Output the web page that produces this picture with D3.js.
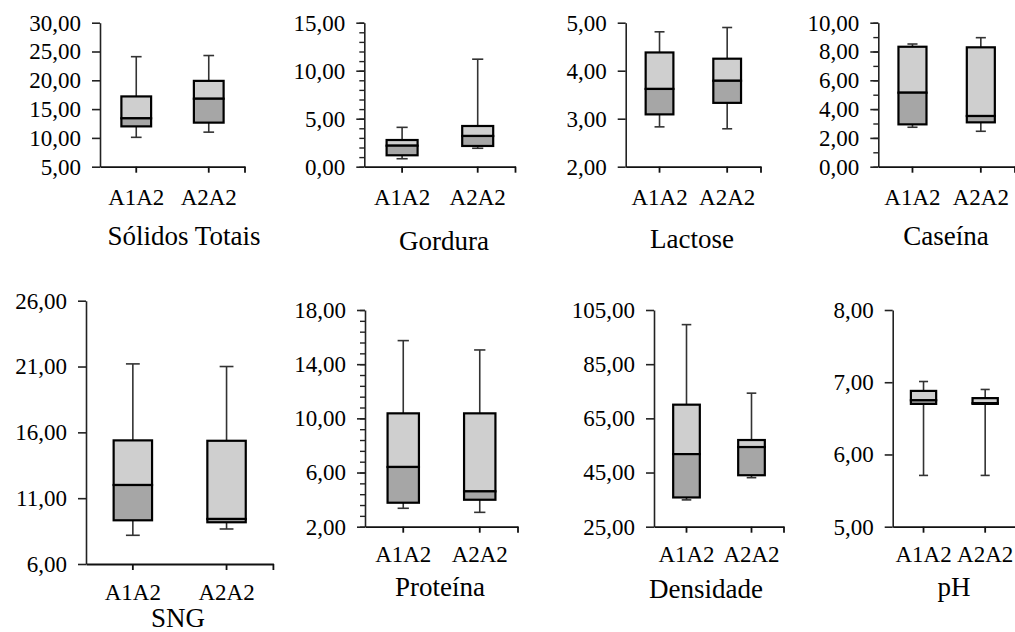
<!DOCTYPE html>
<html>
<head>
<meta charset="utf-8">
<script src="https://cdn.jsdelivr.net/npm/d3@7"></script>
<style>
  body { margin: 0; background: #fff; }
  svg { display: block; }
  text { font-family: "Liberation Serif", "Times New Roman", serif; fill: #000; }
</style>
</head>
<body>
<div id="chart"></div>
<script>
// data (min, Q1, median, Q3, max per genotype)
const genotypes = ["A1A2", "A2A2"]
const variables = ["Sólidos Totais", "Gordura", "Lactose", "Caseína", "SNG", "Proteína", "Densidade", "pH"]
const minValues = [[10.1, 11.0], [0.83, 1.92], [2.83, 2.79], [2.74, 2.46], [8.18, 8.66], [3.36, 3.06], [34.9, 43.1], [5.71, 5.71]]
const q1Values = [[12.0, 12.65], [1.19, 2.16], [3.09, 3.33], [2.94, 3.08], [9.32, 9.17], [3.77, 3.99], [35.8, 44.0], [6.70, 6.70]]
const medianValues = [[13.4, 16.8], [2.19, 3.2], [3.62, 3.79], [5.14, 3.52], [12.0, 9.42], [6.41, 4.61], [51.8, 54.4], [6.75, 6.71]]
const q3Values = [[17.2, 19.9], [2.78, 4.24], [4.38, 4.25], [8.33, 8.29], [15.39, 15.36], [10.37, 10.37], [70.05, 57.0], [6.88, 6.78]]
const maxValues = [[24.1, 24.3], [4.1, 11.2], [4.81, 4.9], [8.52, 8.96], [21.2, 21.0], [15.74, 15.05], [99.6, 74.3], [7.01, 6.90]]

// axis ranges / tick labels
const yMin = [5, 0, 2, 0, 6, 2, 25, 5]
const yMax = [30, 15, 5, 10, 26, 18, 105, 8]
const yStep = [5, 5, 1, 2, 5, 4, 20, 1]
const yMinorStep = [0, 1, 0, 1, 0, 0.8, 0, 0]

// panel placement on the page
const layout = [
    { x0: 100, x1: 245, y0: 22.7, y1: 166.7, labY: 205, titX: 184, titY: 245 },
    { x0: 364.3, x1: 515.5, y0: 22.7, y1: 166.7, labY: 205, titX: 444, titY: 250 },
    { x0: 625.7, x1: 761, y0: 22.7, y1: 166.7, labY: 205, titX: 692, titY: 248 },
    { x0: 878.3, x1: 1015, y0: 22.7, y1: 166.7, labY: 205, titX: 946, titY: 245 },
    { x0: 86, x1: 273.4, y0: 300.7, y1: 564, labY: 600, titX: 178, titY: 627 },
    { x0: 365, x1: 518, y0: 310, y1: 526.7, labY: 562, titX: 440, titY: 596 },
    { x0: 654, x1: 784, y0: 310, y1: 526.7, labY: 562, titX: 706, titY: 598 },
    { x0: 892.7, x1: 1016, y0: 310, y1: 526.7, labY: 562, titX: 954, titY: 596 }
]

const lightFill = "#cfcfcf"
const darkFill = "#a6a6a6"

const ptBR = d3.formatLocale({ decimal: ",", thousands: ".", grouping: [3], currency: ["R$", ""] })
const fmt = ptBR.format(".2f")

svg = d3.select("#chart")
    .append("svg")
    .attr("width", 1015)
    .attr("height", 632)

variables.forEach((name, i) => {
    const L = layout[i]
    const g = svg.append("g")

    yScale = d3.scaleLinear()
        .domain([yMin[i], yMax[i]])
        .range([L.y1, L.y0])

    xScale = d3.scaleBand()
        .domain(genotypes)
        .range([L.x0, L.x1])

    // minor ticks
    if (yMinorStep[i] > 0) {
        const minor = d3.range(yMin[i], yMax[i] + 1e-6, yMinorStep[i])
        const gm = g.append("g")
            .attr("transform", "translate(" + L.x0 + ",0)")
            .call(d3.axisLeft(yScale).tickValues(minor).tickSize(5).tickFormat(""))
        gm.select(".domain").remove()
        gm.selectAll("line").attr("stroke", "#222").attr("stroke-width", 1.4)
    }

    // y axis
    const ticks = d3.range(yMin[i], yMax[i] + yStep[i] / 2, yStep[i])
    const gy = g.append("g")
        .attr("transform", "translate(" + L.x0 + ",0)")
        .call(d3.axisLeft(yScale).tickValues(ticks).tickSize(8).tickSizeOuter(0).tickPadding(11).tickFormat(fmt))
    gy.selectAll("path, line").attr("stroke", "#222").attr("stroke-width", 1.6)
    gy.selectAll("text")
        .attr("font-size", "23px")
        .attr("font-family", "Liberation Serif, Times New Roman, serif")
        .attr("fill", "#000")

    // x axis
    const gx = g.append("g")
        .attr("transform", "translate(0," + L.y1 + ")")
        .call(d3.axisBottom(xScale).tickSize(6).tickSizeOuter(0).tickFormat(""))
    gx.selectAll("path, line").attr("stroke", "#111").attr("stroke-width", 1.8)
    gx.append("line")
        .attr("x1", xScale.range()[1]).attr("x2", xScale.range()[1])
        .attr("y1", 0).attr("y2", 6)
        .attr("stroke", "#111").attr("stroke-width", 1.8)

    g.selectAll(".cat")
        .data(genotypes)
        .enter()
        .append("text")
        .attr("class", "cat")
        .attr("x", (d) => xScale(d) + xScale.bandwidth() / 2)
        .attr("y", L.labY)
        .attr("text-anchor", "middle")
        .attr("font-size", "23px")
        .text((d) => d)

    // boxes
    const boxW = xScale.bandwidth() * 0.41
    const capW = boxW * 0.36

    const boxes = g.selectAll(".box")
        .data(genotypes.map((d, j) => ({
            cat: d,
            min: minValues[i][j], q1: q1Values[i][j], med: medianValues[i][j],
            q3: q3Values[i][j], max: maxValues[i][j]
        })))
        .enter()
        .append("g")
        .attr("class", "box")
        .attr("transform", (d) => "translate(" + (xScale(d.cat) + xScale.bandwidth() / 2) + ",0)")

    boxes.append("line")
        .attr("x1", 0).attr("x2", 0)
        .attr("y1", (d) => yScale(d.max)).attr("y2", (d) => yScale(d.q3))
        .attr("stroke", "#333").attr("stroke-width", 1.6)
    boxes.append("line")
        .attr("x1", 0).attr("x2", 0)
        .attr("y1", (d) => yScale(d.q1)).attr("y2", (d) => yScale(d.min))
        .attr("stroke", "#333").attr("stroke-width", 1.6)
    boxes.append("line")
        .attr("x1", -capW / 2).attr("x2", capW / 2)
        .attr("y1", (d) => yScale(d.max)).attr("y2", (d) => yScale(d.max))
        .attr("stroke", "#333").attr("stroke-width", 1.6)
    boxes.append("line")
        .attr("x1", -capW / 2).attr("x2", capW / 2)
        .attr("y1", (d) => yScale(d.min)).attr("y2", (d) => yScale(d.min))
        .attr("stroke", "#333").attr("stroke-width", 1.6)

    boxes.append("rect")
        .attr("x", -boxW / 2)
        .attr("width", boxW)
        .attr("y", (d) => yScale(d.q3))
        .attr("height", (d) => yScale(d.med) - yScale(d.q3))
        .attr("fill", lightFill)
        .attr("stroke", "#000")
        .attr("stroke-width", 2.2)
    boxes.append("rect")
        .attr("x", -boxW / 2)
        .attr("width", boxW)
        .attr("y", (d) => yScale(d.med))
        .attr("height", (d) => yScale(d.q1) - yScale(d.med))
        .attr("fill", darkFill)
        .attr("stroke", "#000")
        .attr("stroke-width", 2.2)

    // panel title
    g.append("text")
        .attr("x", L.titX)
        .attr("y", L.titY)
        .attr("text-anchor", "middle")
        .attr("font-size", "27px")
        .text(name)
})
</script>
</body>
</html>
